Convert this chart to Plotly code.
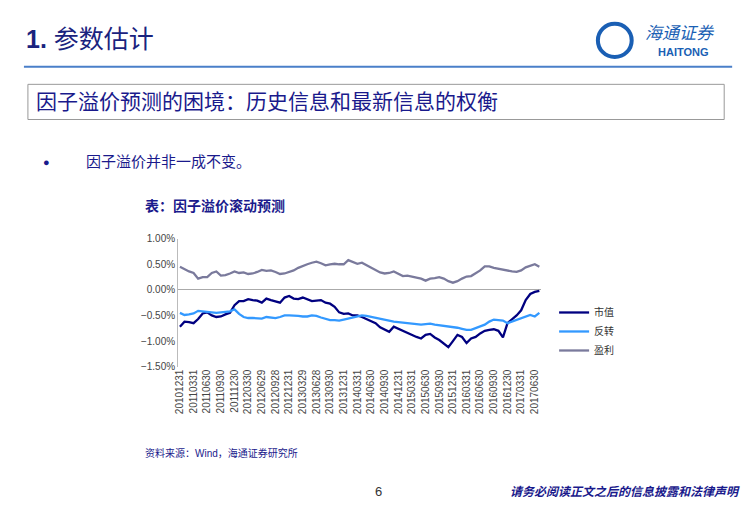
import plotly.graph_objects as go

tick_labels = ["20101231", "20110331", "20110630", "20110930", "20111230", "20120330", "20120629",
               "20120928", "20121231", "20130329", "20130628", "20130930", "20131231", "20140331",
               "20140630", "20140930", "20141231", "20150331", "20150630", "20150930", "20151231",
               "20160331", "20160630", "20160930", "20161230", "20170331", "20170630"]

size_factor = [-0.72, -0.62, -0.63, -0.65, -0.57, -0.46, -0.44, -0.50, -0.53, -0.52, -0.48, -0.45,
               -0.30, -0.22, -0.22, -0.18, -0.20, -0.21, -0.25, -0.17, -0.20, -0.22, -0.25, -0.15,
               -0.12, -0.17, -0.18, -0.15, -0.18, -0.22, -0.21, -0.20, -0.25, -0.27, -0.33, -0.44,
               -0.47, -0.46, -0.50, -0.50, -0.53, -0.57, -0.62, -0.65, -0.73, -0.78, -0.82, -0.72,
               -0.76, -0.80, -0.85, -0.88, -0.92, -0.95, -0.88, -0.86, -0.93, -0.98, -1.05, -1.12,
               -1.00, -0.88, -0.92, -1.04, -0.95, -0.92, -0.85, -0.80, -0.78, -0.77, -0.80, -0.93,
               -0.65, -0.58, -0.50, -0.40, -0.20, -0.08, -0.04, -0.02]
reversal = [-0.45, -0.49, -0.48, -0.46, -0.41, -0.42, -0.44, -0.45, -0.45, -0.44, -0.43, -0.42,
            -0.38, -0.47, -0.53, -0.55, -0.55, -0.55, -0.56, -0.53, -0.54, -0.55, -0.53, -0.50,
            -0.50, -0.50, -0.51, -0.52, -0.52, -0.50, -0.51, -0.54, -0.57, -0.59, -0.59, -0.60,
            -0.58, -0.56, -0.54, -0.51, -0.50, -0.51, -0.53, -0.55, -0.57, -0.58, -0.60, -0.62,
            -0.63, -0.64, -0.65, -0.66, -0.67, -0.68, -0.67, -0.66, -0.68, -0.69, -0.70, -0.71,
            -0.72, -0.74, -0.76, -0.78, -0.78, -0.75, -0.72, -0.68, -0.62, -0.58, -0.59, -0.60,
            -0.65, -0.62, -0.58, -0.55, -0.53, -0.49, -0.52, -0.45]
profit = [0.45, 0.40, 0.36, 0.33, 0.22, 0.25, 0.25, 0.33, 0.36, 0.28, 0.29, 0.32,
          0.36, 0.33, 0.34, 0.31, 0.32, 0.35, 0.39, 0.37, 0.38, 0.35, 0.31, 0.32,
          0.35, 0.38, 0.43, 0.47, 0.50, 0.53, 0.55, 0.52, 0.48, 0.50, 0.51, 0.50,
          0.50, 0.58, 0.55, 0.51, 0.53, 0.48, 0.43, 0.38, 0.34, 0.32, 0.33, 0.36,
          0.32, 0.27, 0.28, 0.26, 0.25, 0.22, 0.18, 0.22, 0.23, 0.25, 0.22, 0.17,
          0.14, 0.17, 0.22, 0.26, 0.27, 0.33, 0.38, 0.46, 0.46, 0.43, 0.41, 0.39,
          0.38, 0.36, 0.35, 0.38, 0.44, 0.47, 0.50, 0.45]

x = list(range(len(size_factor)))
W, H, OFF = 753, 519, 8  # page body margin shifts the figure by ~8px


def px(v):
    return (v - OFF) / W


def py(v):
    return 1 - (v - OFF) / H


fig = go.Figure()
fig.add_scatter(x=x, y=size_factor, name="市值", mode="lines", line=dict(color="#000080", width=2.3))
fig.add_scatter(x=x, y=reversal, name="反转", mode="lines", line=dict(color="#3399ff", width=2.3))
fig.add_scatter(x=x, y=profit, name="盈利", mode="lines", line=dict(color="#7a7a9c", width=2.3))

fig.update_layout(
    width=W, height=H, margin=dict(l=0, r=0, t=0, b=0),
    paper_bgcolor="white", plot_bgcolor="white",
    font=dict(family="Liberation Sans, Noto Sans CJK SC", color="#333"),
    xaxis=dict(domain=[px(175), px(540)], range=[-0.4, 79.4], tickvals=x[::3], ticktext=tick_labels,
               tickangle=-90, tickfont=dict(size=10, color="#444"), showgrid=False, showline=False,
               zeroline=False),
    yaxis=dict(domain=[py(369), py(238)], range=[-1.5, 1.0], dtick=0.5, tickformat=".2f",
               ticksuffix="%", tickfont=dict(size=10, color="#444"), showgrid=False,
               showline=True, linecolor="#bbb", zeroline=True, zerolinecolor="#aaa",
               zerolinewidth=1),
    legend=dict(x=px(553), y=py(333), yanchor="middle", font=dict(size=10, color="#333"),
                tracegroupgap=0, itemwidth=30, bgcolor="rgba(0,0,0,0)"),
    showlegend=True,
)

shapes = [
    dict(type="line", xref="paper", yref="paper", x0=px(20), x1=px(732), y0=py(62), y1=py(62),
         line=dict(color="#4a7fc9", width=2)),
    dict(type="rect", xref="paper", yref="paper", x0=px(24), x1=px(724), y0=py(116), y1=py(80),
         line=dict(color="#999", width=1)),
    dict(type="circle", xref="paper", yref="paper", x0=px(597), x1=px(631), y0=py(52),
         y1=py(18), line=dict(color="#1a5fb4", width=4)),
]
fig.update_layout(shapes=shapes)

ann = [
    dict(x=20, y=34, text="<b>1.</b> 参数估计", size=25, color="#1a237e", anchor="left"),
    dict(x=30, y=98, text="因子溢价预测的困境：历史信息和最新信息的权衡", size=21, color="#1a1a8c", anchor="left"),
    dict(x=37, y=160, text="●", size=11, color="#1a1a8c", anchor="left"),
    dict(x=80, y=159, text="因子溢价并非一成不变。", size=15, color="#1a1a8c", anchor="left"),
    dict(x=140, y=205, text="<b>表：因子溢价滚动预测</b>", size=14, color="#1a1a8c", anchor="left"),
    dict(x=140, y=457, text="资料来源：Wind，海通证券研究所", size=10, color="#1a1a8c", anchor="left"),
    dict(x=376, y=497, text="6", size=13, color="#333", anchor="center"),
    dict(x=742, y=497, text="<b><i>请务必阅读正文之后的信息披露和法律声明</i></b>", size=12, color="#1a1a8c", anchor="right"),
    dict(x=680, y=28, text="<i>海通证券</i>", size=17, color="#1a5fb4", anchor="center"),
    dict(x=683, y=47, text="<b>HAITONG</b>", size=11, color="#1a5fb4", anchor="center"),
]
for a in ann:
    fig.add_annotation(x=px(a["x"]), y=py(a["y"]), xref="paper", yref="paper",
                       text=a["text"], showarrow=False, xanchor=a["anchor"], yanchor="middle",
                       font=dict(size=a["size"], color=a["color"],
                                 family="Liberation Sans, Noto Sans CJK SC"))

fig.write_html("out.html")
